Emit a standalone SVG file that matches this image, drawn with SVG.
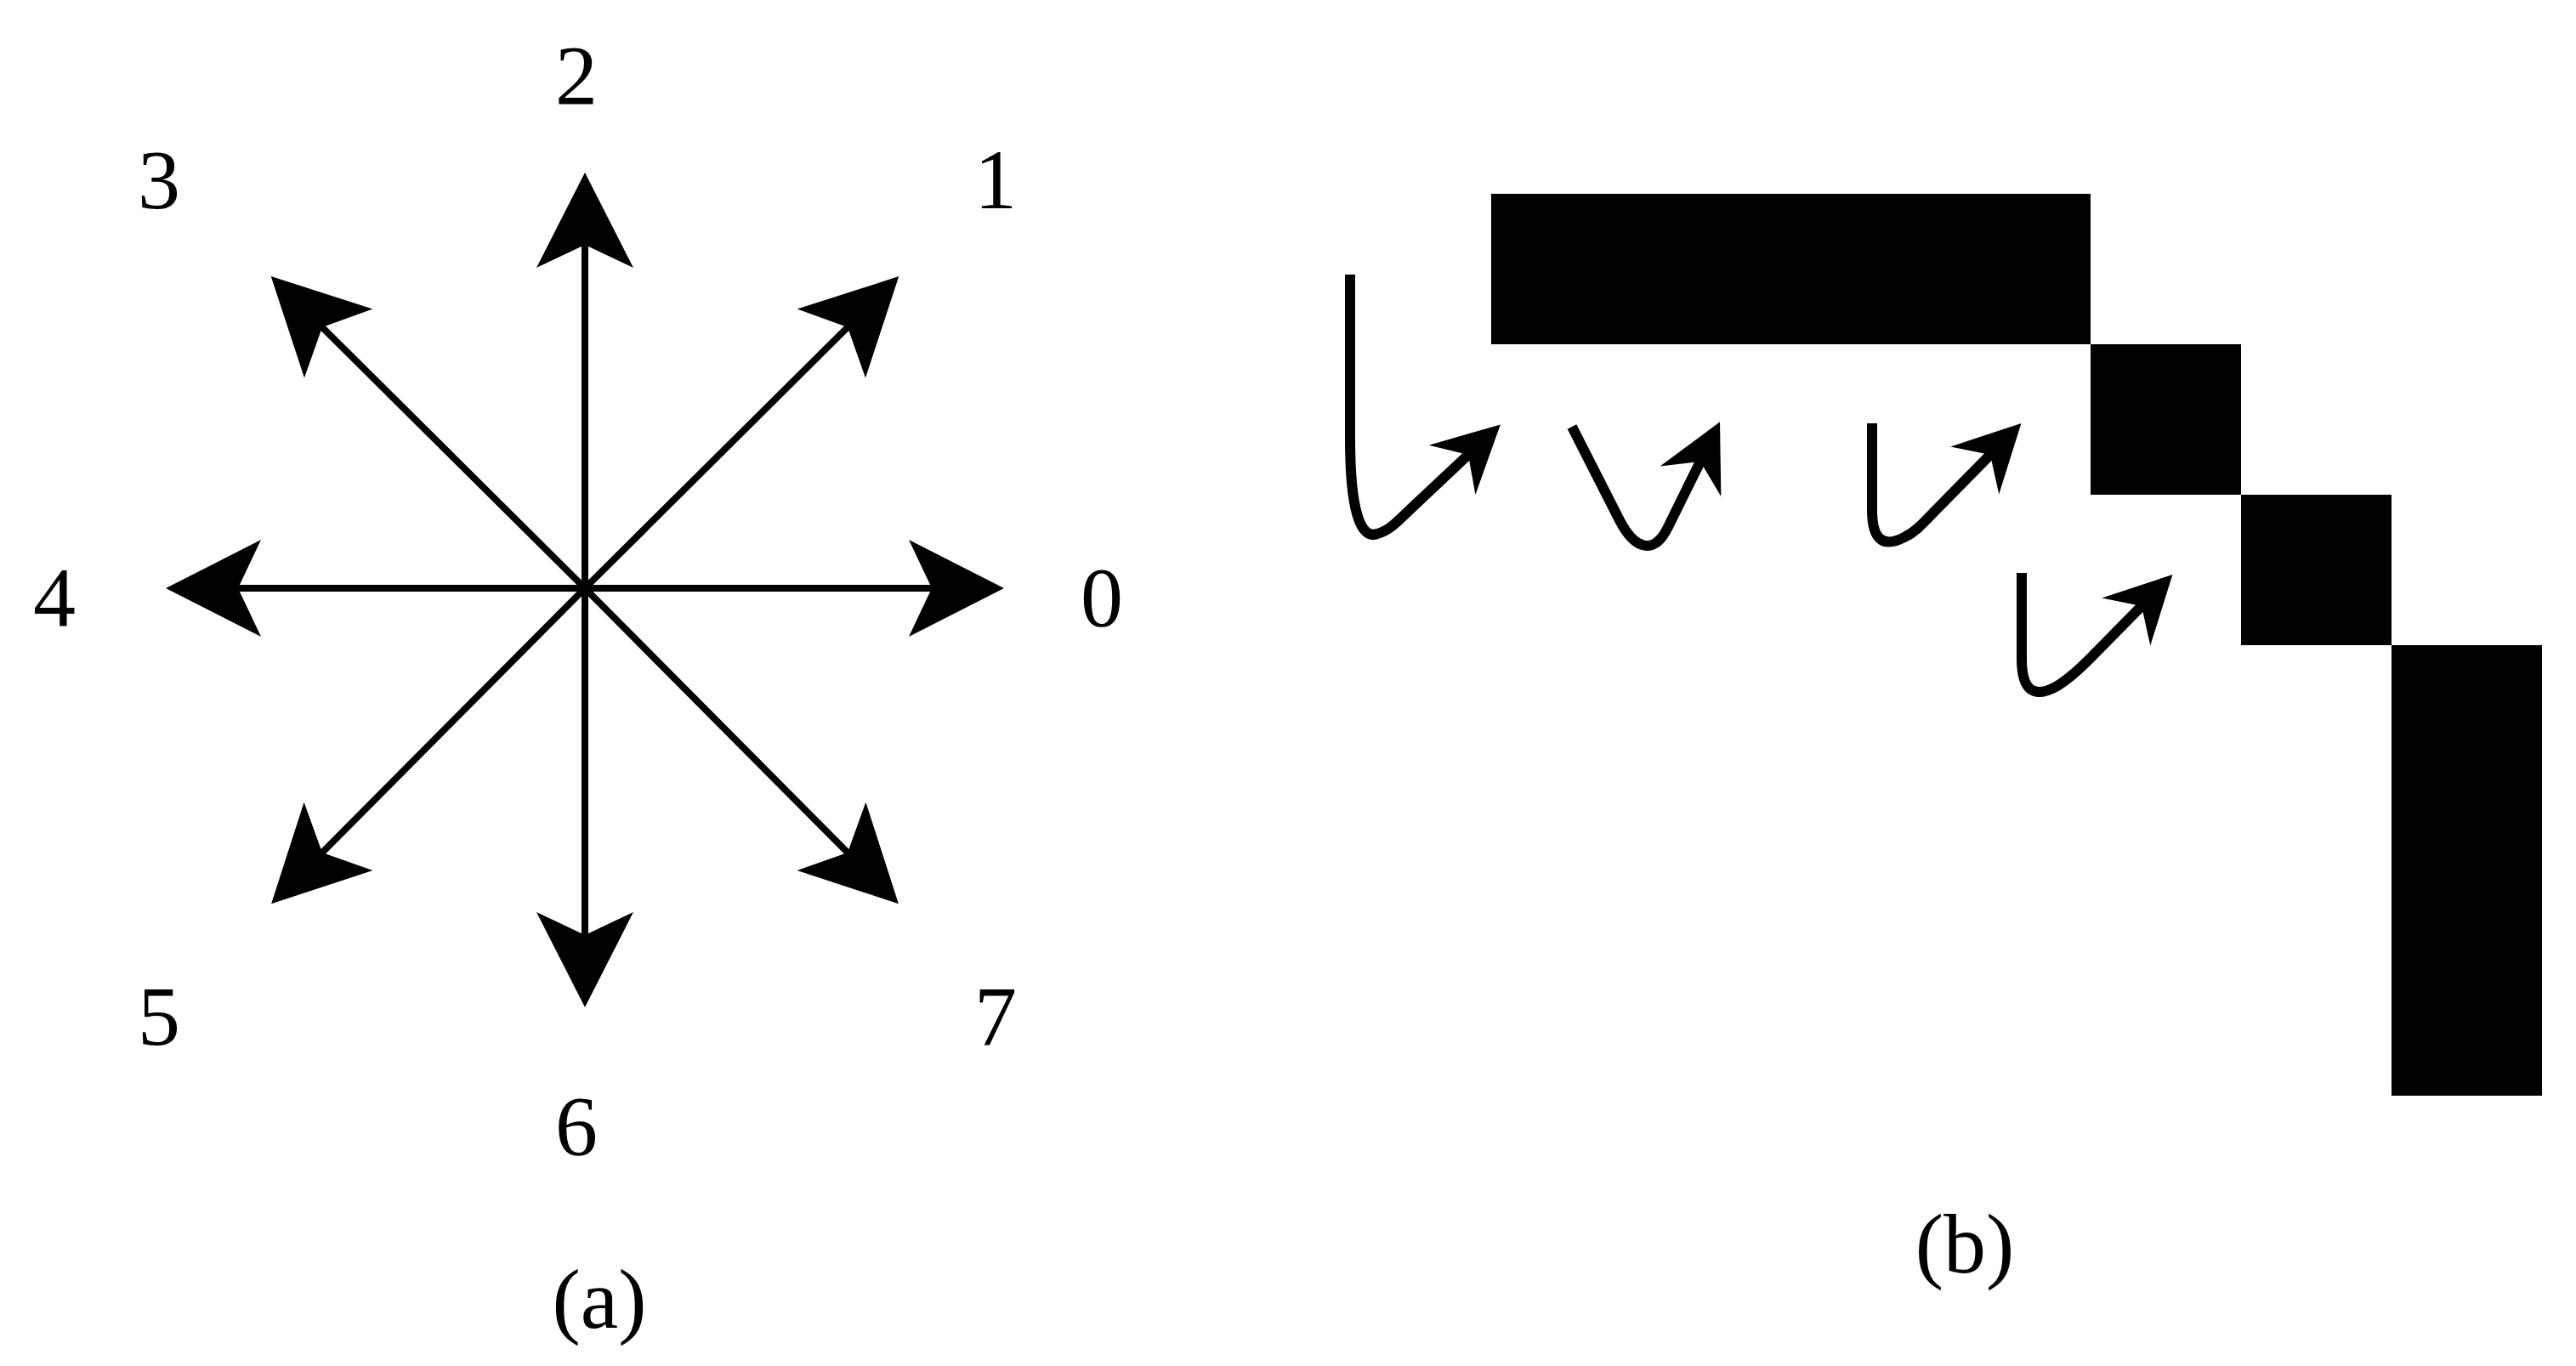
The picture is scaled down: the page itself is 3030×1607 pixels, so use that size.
<svg xmlns="http://www.w3.org/2000/svg" width="3030" height="1607" viewBox="0 0 3030 1607">
<style>
text{font-family:"Liberation Serif","Times New Roman",serif;font-size:100px;fill:#000;text-anchor:middle}
.ax{stroke:#000;stroke-width:8;fill:none;marker-end:url(#big)}
.hk{stroke:#000;stroke-width:12;fill:none;marker-end:url(#small)}
</style>
<defs>
<marker id="big" markerUnits="userSpaceOnUse" orient="auto" refX="-85" refY="0" markerWidth="1" markerHeight="1" overflow="visible"><path d="M0,0 L-112,-57 L-85,0 L-112,57 Z" fill="#000"/></marker>
<marker id="small" markerUnits="userSpaceOnUse" orient="auto" refX="-52" refY="0" markerWidth="1" markerHeight="1" overflow="visible"><path d="M0,0 L-78,-40 L-52,0 L-78,40 Z" fill="#000"/></marker>
</defs>
<g id="connectors">
<path class="ax" d="M688,692 L1096,692"/>
<path class="ax" d="M688,692 L997,385"/>
<path class="ax" d="M688,692 L688,288"/>
<path class="ax" d="M688,692 L379,385"/>
<path class="ax" d="M688,692 L280,692"/>
<path class="ax" d="M688,692 L379,1003"/>
<path class="ax" d="M688,692 L688,1100"/>
<path class="ax" d="M688,692 L997,1003"/>
<path class="hk" d="M1588,323 V515 C1588,600 1600,635 1620,628 C1635,624 1645,612 1660,598 L1727,535"/>
<path class="hk" d="M1849,502 L1905,612 C1922,645 1945,655 1962,620 L2000,543"/>
<path class="hk" d="M2202,498 V600 C2202,635 2215,645 2240,632 C2255,625 2265,612 2280,597 L2341,535"/>
<path class="hk" d="M2378,674 V775 C2378,812 2392,822 2418,808 C2432,800 2445,788 2458,775 L2519,713"/>
</g>
<g id="labels-a">
<text x="1296" y="736">0</text>
<text x="1171" y="245">1</text>
<text x="678" y="122">2</text>
<text x="187" y="245">3</text>
<text x="64" y="736">4</text>
<text x="187" y="1229">5</text>
<text x="678" y="1358">6</text>
<text x="1171" y="1229">7</text>
<text x="705" y="1562">(a)</text>
</g>
<g id="blocks">
<rect x="1754" y="228" width="705" height="177" fill="#000"/>
<rect x="2459" y="405" width="177" height="177" fill="#000"/>
<rect x="2636" y="582" width="177" height="177" fill="#000"/>
<rect x="2813" y="759" width="177" height="530" fill="#000"/>
</g>
<text x="2311" y="1497">(b)</text>
</svg>
